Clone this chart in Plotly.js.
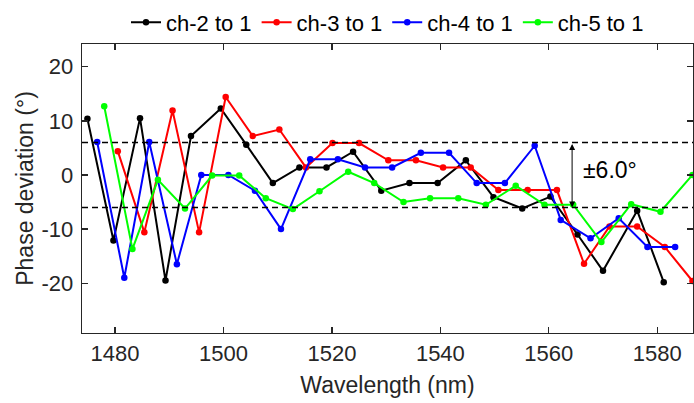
<!DOCTYPE html>
<html>
<head>
<meta charset="utf-8">
<script src="https://cdn.plot.ly/plotly-3.0.1.min.js"></script>
<style>html,body{margin:0;padding:0;background:#fff;}#chart{width:694px;height:403px;}</style>
</head>
<body>
<div id="chart"></div>
<script>
// Series data (wavelength in nm, phase deviation in degrees)
const ch2_x = [1474.9,1479.7,1484.6,1489.3,1494.0,1499.5,1504.2,1509.1,1514.0,1519.0,1523.9,1529.1,1534.3,1539.5,1544.7,1549.8,1555.1,1560.3,1565.3,1570.0,1576.3,1581.2];
const ch2_y = [10.4,-12.1,10.5,-19.5,7.2,12.3,5.6,-1.5,1.4,1.4,4.3,-2.9,-1.5,-1.5,2.7,-4.1,-6.2,-4.0,-11.0,-17.7,-6.6,-19.8];

const ch3_x = [1480.5,1485.4,1490.6,1495.5,1500.4,1505.4,1510.3,1515.2,1520.1,1525.0,1530.4,1535.5,1540.5,1545.6,1550.7,1556.1,1561.5,1566.5,1571.2,1576.3,1581.4,1586.5];
const ch3_y = [4.4,-10.6,11.9,-10.6,14.4,7.2,8.4,1.4,5.9,5.9,2.7,2.7,1.4,1.4,-2.8,-2.8,-2.8,-16.4,-9.5,-9.5,-13.3,-19.6];

const ch4_x = [1476.7,1481.7,1486.3,1491.4,1495.9,1500.9,1505.8,1510.6,1516.0,1521.1,1526.1,1531.1,1536.4,1541.6,1546.7,1551.9,1557.4,1562.2,1567.7,1572.9,1578.2,1583.3];
const ch4_y = [6.1,-19.0,6.1,-16.5,0.0,0.0,-2.9,-10.0,2.9,2.9,1.4,1.4,4.1,4.1,-1.5,-1.5,5.4,-8.3,-11.7,-8.0,-13.3,-13.3];

const ch5_x = [1478.0,1483.2,1487.9,1492.9,1497.9,1502.9,1507.8,1512.8,1517.7,1523.0,1527.8,1533.2,1538.1,1543.3,1548.4,1553.9,1559.2,1564.5,1569.7,1575.2,1580.6,1586.5];
const ch5_y = [12.7,-13.7,-0.9,-6.2,-0.1,-0.1,-4.3,-6.3,-3.0,0.6,-1.5,-5.0,-4.3,-4.3,-5.5,-2.0,-5.5,-5.5,-12.4,-5.4,-6.8,0.0];

const seriesNames = ["ch-2 to 1","ch-3 to 1","ch-4 to 1","ch-5 to 1"];
const seriesColors = ["#000000","#ff0000","#0000ff","#00ff00"];
const xs = [ch2_x, ch3_x, ch4_x, ch5_x];
const ys = [ch2_y, ch3_y, ch4_y, ch5_y];

const bound = 6.0;           // ± tolerance lines
const xRange = [1473.9, 1586.6];
const yRange = [-29.2, 24.2];
const xTicks = [1480,1500,1520,1540,1560,1580];
const yTicks = [-20,-10,0,10,20];
const arrowX = 1564.3;
const labelText = "±6.0°";

const font = "Liberation Sans, Arial, Helvetica, sans-serif";
const axisColor = "#262626";

const traces = xs.map((x, i) => ({
  type: "scatter", mode: "lines+markers",
  x: x, y: ys[i], name: seriesNames[i],
  line: {color: seriesColors[i], width: 2},
  marker: {color: seriesColors[i], size: 6.5, symbol: "circle"},
  cliponaxis: true
}));

const shapes = [bound, -bound].map(v => ({
  type: "line", xref: "paper", x0: 0, x1: 1, yref: "y", y0: v, y1: v,
  line: {color: "#000", width: 1.6, dash: "6px,4px"}, layer: "above"
}));

const axisCommon = {
  showgrid: false, zeroline: false, showline: true, mirror: "ticks",
  linecolor: axisColor, linewidth: 1.3, ticks: "inside", ticklen: 6,
  tickcolor: axisColor, tickwidth: 1.3,
  tickfont: {family: font, size: 22, color: axisColor}
};

const layout = {
  width: 694, height: 403,
  margin: {l: 82, r: 1, t: 38.5, b: 70},
  paper_bgcolor: "#fff", plot_bgcolor: "#fff",
  font: {family: font, size: 22, color: axisColor},
  showlegend: true,
  legend: {orientation: "h", x: 0.5, xanchor: "center", y: 1.075, yanchor: "middle",
           font: {family: font, size: 22, color: "#000"}, itemwidth: 30, tracegroupgap: 0,
           bgcolor: "rgba(0,0,0,0)"},
  xaxis: Object.assign({}, axisCommon, {
    range: xRange, tickvals: xTicks, ticktext: xTicks.map(String),
    title: {text: "Wavelength (nm)", font: {family: font, size: 23, color: axisColor}, standoff: 12}
  }),
  yaxis: Object.assign({}, axisCommon, {
    range: yRange, tickvals: yTicks, ticktext: yTicks.map(String), ticklabelstandoff: 3,
    title: {text: "Phase deviation (°)", font: {family: font, size: 23, color: axisColor}, standoff: 1}
  }),
  shapes: shapes,
  annotations: [
    {x: arrowX, y: -bound, ax: arrowX, ay: bound, xref: "x", yref: "y", axref: "x", ayref: "y",
     showarrow: true, arrowhead: 2, startarrowhead: 2, arrowside: "end+start",
     arrowwidth: 1, arrowsize: 1.2, startarrowsize: 1.2, arrowcolor: "#000", text: ""},
    {x: arrowX + 1.6, y: 0.9, xref: "x", yref: "y", xanchor: "left", yanchor: "middle",
     showarrow: false, text: labelText, font: {family: font, size: 23, color: "#000"}}
  ]
};

Plotly.newPlot("chart", traces, layout, {displayModeBar: false, staticPlot: true});
</script>
</body>
</html>
